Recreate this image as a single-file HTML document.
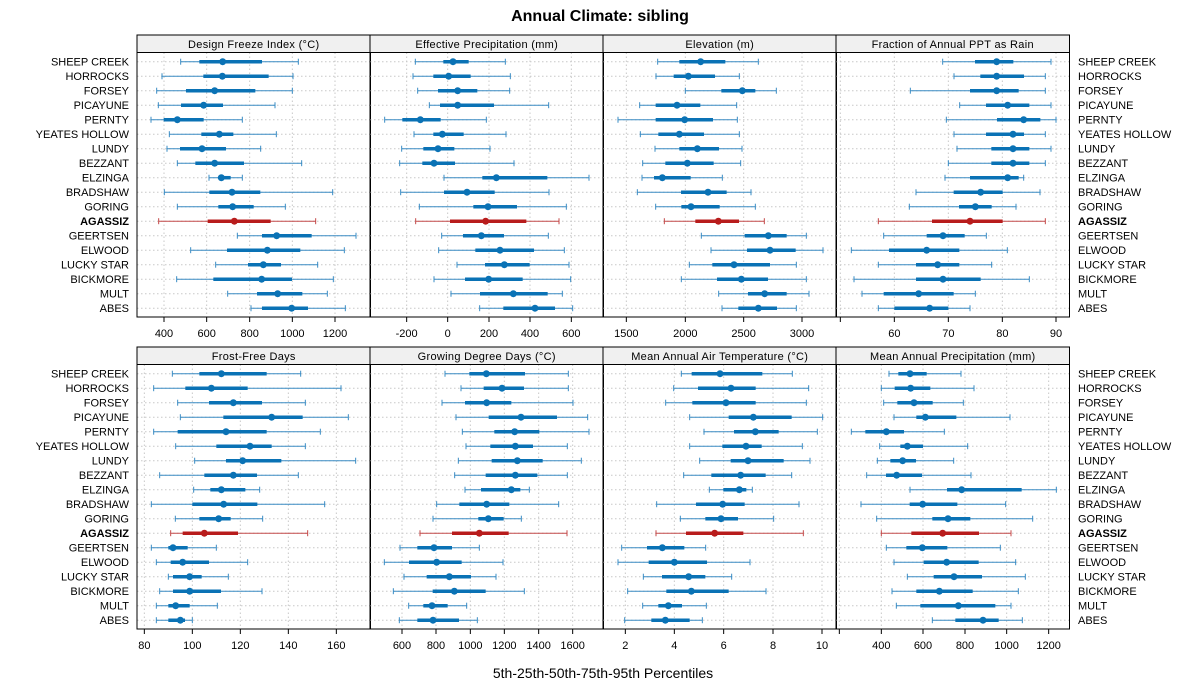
<!DOCTYPE html>
<html><head><meta charset="utf-8"><style>
html,body{margin:0;padding:0;background:#fff;}
svg{display:block;font-family:"Liberation Sans",sans-serif;}
</style></head><body>
<svg id="s" width="1200" height="700" xmlns="http://www.w3.org/2000/svg">
<text x="600" y="21" text-anchor="middle" font-size="16" font-weight="bold">Annual Climate: sibling</text>
<text x="603" y="678" text-anchor="middle" font-size="14">5th-25th-50th-75th-95th Percentiles</text>
</svg>
<script>
var names=["SHEEP CREEK","HORROCKS","FORSEY","PICAYUNE","PERNTY","YEATES HOLLOW","LUNDY","BEZZANT","ELZINGA","BRADSHAW","GORING","AGASSIZ","GEERTSEN","ELWOOD","LUCKY STAR","BICKMORE","MULT","ABES"];
var panels=[
{t:"Design Freeze Index (°C)",x:137,y:35,ticks:[[81,"400"],[209,"600"],[338,"800"],[466,"1000"],[594,"1200"]],d:[[131,187,257,375,484],[75,199,256,395,468],[59,147,233,355,466],[64,132,200,258,414],[42,80,121,200,316],[97,193,247,289,418],[90,129,195,267,371],[121,175,233,321,494],[216,245,253,281,316],[82,217,285,370,587],[121,244,287,350,445],[65,212,292,401,536],[301,375,419,524,657],[161,270,391,490,622],[236,333,379,432,542],[119,229,374,465,589],[272,360,422,496,571],[342,375,464,513,625]]},
{t:"Effective Precipitation (mm)",x:370,y:35,ticks:[[110,"-200"],[233,"0"],[357,"200"],[480,"400"],[604,"600"]],d:[[136,220,249,296,406],[129,190,236,302,421],[143,204,263,322,419],[178,210,263,372,536],[44,97,151,212,349],[132,190,217,281,408],[95,160,204,253,360],[89,157,192,255,432],[222,337,379,532,657],[92,222,291,374,537],[148,310,354,441,589],[137,240,347,469,567],[215,279,334,402,535],[206,316,390,492,583],[261,345,403,479,597],[192,285,356,458,602],[243,330,430,533,577],[329,400,495,555,608]]},
{t:"Elevation (m)",x:603,y:35,ticks:[[70,"1500"],[247,"2000"],[422,"2500"],[597,"3000"]],d:[[164,229,293,367,466],[159,212,256,336,409],[247,355,418,457,520],[110,158,222,292,401],[45,158,245,330,403],[112,166,229,303,409],[156,229,283,348,417],[119,187,253,332,413],[117,153,178,263,358],[103,234,315,371,444],[158,235,264,350,457],[184,277,346,408,484],[295,425,496,551,610],[324,432,501,578,660],[259,328,393,501,580],[235,342,415,495,610],[347,435,485,551,618],[357,406,466,522,580]]},
{t:"Fraction of Annual PPT as Rain",x:836,y:35,ticks:[[13,""],[175,"60"],[337,"70"],[499,"80"],[660,"90"]],d:[[320,417,482,532,645],[354,433,482,564,628],[223,402,482,548,628],[371,450,515,580,645],[331,483,563,613,660],[354,450,531,564,628],[363,466,531,580,645],[337,466,531,580,628],[327,402,515,548,563],[240,353,434,500,612],[220,369,418,467,540],[127,288,402,500,628],[143,272,321,386,451],[46,159,272,370,514],[127,240,305,370,467],[54,240,321,434,580],[78,143,248,353,418],[127,175,281,337,402]]},
{t:"Frost-Free Days",x:137,y:347,ticks:[[22,"80"],[166,"100"],[310,"120"],[454,"140"],[598,"160"]],d:[[106,187,253,389,491],[50,145,223,332,612],[122,216,289,375,505],[130,259,404,497,634],[50,122,267,389,550],[116,238,339,404,505],[173,267,317,433,656],[68,202,289,360,484],[170,220,253,325,368],[43,166,260,361,563],[115,187,245,281,377],[101,137,202,303,512],[43,94,108,152,238],[58,101,137,216,332],[94,108,158,194,274],[68,108,158,252,375],[58,94,116,158,241],[58,94,130,144,166]]},
{t:"Growing Degree Days (°C)",x:370,y:347,ticks:[[96,"600"],[198,"800"],[301,"1000"],[403,"1200"],[506,"1400"],[608,"1600"]],d:[[225,298,349,465,595],[273,341,396,462,595],[216,285,350,424,609],[258,356,453,561,653],[277,373,434,508,657],[288,361,436,489,592],[265,365,442,518,634],[254,347,436,502,592],[285,333,424,451,478],[200,268,350,418,566],[189,325,355,401,454],[150,246,328,416,591],[90,142,192,246,328],[43,117,200,275,399],[102,170,238,303,378],[70,188,253,347,463],[116,160,186,233,290],[88,142,189,267,322]]},
{t:"Mean Annual Air Temperature (°C)",x:603,y:347,ticks:[[67,"2"],[214,"4"],[362,"6"],[510,"8"],[657,"10"]],d:[[235,266,351,478,568],[212,285,384,458,617],[188,268,369,458,610],[260,377,451,566,659],[303,393,457,527,643],[260,358,429,476,598],[290,383,435,542,621],[242,325,413,488,566],[319,361,409,430,448],[161,279,359,425,588],[232,307,354,405,512],[159,249,335,421,601],[56,132,178,244,308],[45,137,214,312,441],[121,177,257,307,386],[74,190,265,377,489],[119,166,196,237,310],[65,145,187,260,298]]},
{t:"Mean Annual Precipitation (mm)",x:836,y:347,ticks:[[10,""],[136,"400"],[261,"600"],[387,"800"],[512,"1000"],[638,"1200"]],d:[[159,187,222,272,375],[136,176,224,283,414],[143,184,234,290,382],[174,241,268,361,522],[46,88,151,204,325],[131,193,214,261,395],[124,163,200,240,353],[92,150,182,258,405],[222,333,377,557,661],[75,221,260,364,509],[122,289,336,403,590],[136,226,320,429,525],[151,211,259,334,493],[174,263,332,428,539],[214,293,354,438,568],[168,241,310,410,547],[181,253,367,478,525],[289,358,441,488,559]]}
];
var h="";
panels.forEach(function(p,pi){
 var x0=p.x,x1=p.x+233.5,ys=p.y,pt=p.y+17.5,pb=p.y+282;
 h+='<rect x="'+x0+'" y="'+ys+'" width="'+(x1-x0)+'" height="17.5" fill="#f0f0f0" stroke="#000" stroke-width="1"/>';
 h+='<text x="'+((x0+x1)/2)+'" y="'+(ys+13)+'" text-anchor="middle" font-size="11" letter-spacing="0.3">'+p.t+'</text>';
 p.ticks.forEach(function(t){var tx=x0+t[0]/3;
  h+='<line x1="'+tx+'" y1="'+pt+'" x2="'+tx+'" y2="'+pb+'" stroke="#c8c8c8" stroke-dasharray="1.5,2.5"/>';
  h+='<line x1="'+tx+'" y1="'+pb+'" x2="'+tx+'" y2="'+(pb+5)+'" stroke="#000"/>';
  if(t[1])h+='<text x="'+tx+'" y="'+(pb+20)+'" text-anchor="middle" font-size="11">'+t[1]+'</text>';});
 p.d.forEach(function(r,i){
  var y=p.y+26.7+i*14.5, red=(i==11), c=red?"#b81c1c":"#0a72b5", cl=red?"#c44a4a":"#3a8cc4";
  h+='<line x1="'+x0+'" y1="'+y+'" x2="'+x1+'" y2="'+y+'" stroke="#c8c8c8" stroke-dasharray="1.5,2.5"/>';
  var a=r.map(function(v){return x0+v/3;});
  h+='<line x1="'+a[0]+'" y1="'+y+'" x2="'+a[4]+'" y2="'+y+'" stroke="'+cl+'" stroke-width="1"/>';
  h+='<line x1="'+a[0]+'" y1="'+(y-3)+'" x2="'+a[0]+'" y2="'+(y+3)+'" stroke="'+cl+'"/>';
  h+='<line x1="'+a[4]+'" y1="'+(y-3)+'" x2="'+a[4]+'" y2="'+(y+3)+'" stroke="'+cl+'"/>';
  h+='<line x1="'+a[1]+'" y1="'+y+'" x2="'+a[3]+'" y2="'+y+'" stroke="'+c+'" stroke-width="3.5"/>';
  h+='<circle cx="'+a[2]+'" cy="'+y+'" r="3.5" fill="'+c+'"/>';
  if(pi==0||pi==4)h+='<text x="129" y="'+(y+4)+'" text-anchor="end" font-size="11"'+(red?' font-weight="bold"':'')+'>'+names[i]+'</text>';
  if(pi==3||pi==7)h+='<text x="1078" y="'+(y+4)+'" font-size="11"'+(red?' font-weight="bold"':'')+'>'+names[i]+'</text>';
 });
 h+='<rect x="'+x0+'" y="'+pt+'" width="'+(x1-x0)+'" height="'+(pb-pt)+'" fill="none" stroke="#000"/>';
});
document.getElementById("s").insertAdjacentHTML("beforeend",h);
</script>
</body></html>
